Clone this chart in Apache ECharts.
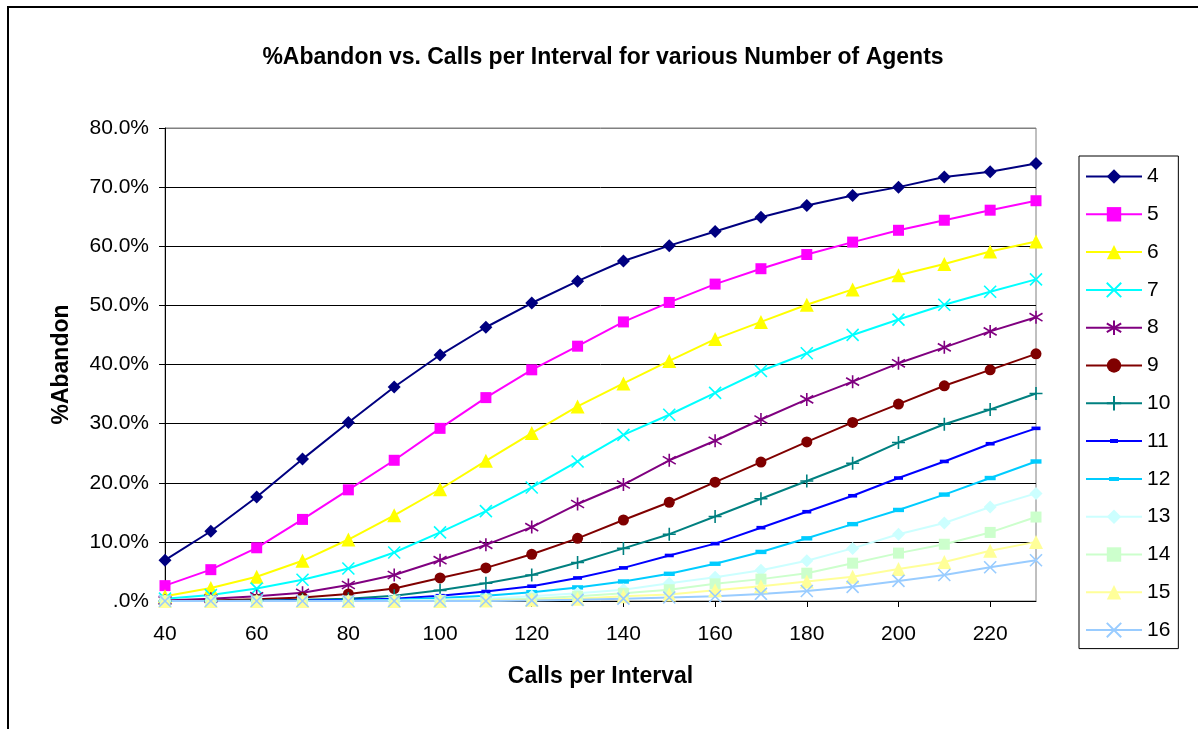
<!DOCTYPE html>
<html>
<head>
<meta charset="utf-8">
<script src="https://cdn.jsdelivr.net/npm/echarts@6/dist/echarts.min.js"></script>
<style>
html,body{margin:0;padding:0;background:#fff;}
#chart{width:1198px;height:729px;}
</style>
</head>
<body>
<div id="chart"></div>
<script>
const categories = ['40','50','60','70','80','90','100','110','120','130','140','150','160','170','180','190','200','210','220','230'];
const seriesNames = ['4','5','6','7','8','9','10','11','12','13','14','15','16'];
const s4  = [6.9, 11.8, 17.6, 24.0, 30.2, 36.2, 41.6, 46.3, 50.4, 54.1, 57.5, 60.1, 62.5, 64.9, 66.9, 68.6, 70.0, 71.7, 72.6, 74.0];
const s5  = [2.6, 5.3, 9.0, 13.8, 18.8, 23.8, 29.2, 34.4, 39.1, 43.1, 47.2, 50.5, 53.6, 56.2, 58.6, 60.7, 62.7, 64.4, 66.1, 67.7];
const s6  = [0.8, 2.2, 4.1, 6.8, 10.4, 14.5, 18.9, 23.7, 28.4, 32.9, 36.8, 40.6, 44.3, 47.2, 50.1, 52.7, 55.1, 57.0, 59.1, 60.8];
const s7  = [0.4, 1.0, 2.1, 3.6, 5.5, 8.2, 11.6, 15.2, 19.2, 23.6, 28.1, 31.5, 35.2, 38.9, 41.9, 45.0, 47.6, 50.1, 52.3, 54.4];
const s8  = [0.1, 0.4, 0.8, 1.4, 2.7, 4.4, 6.9, 9.5, 12.5, 16.4, 19.7, 23.8, 27.1, 30.7, 34.1, 37.1, 40.2, 42.9, 45.6, 48.0];
const s9  = [0.0, 0.1, 0.3, 0.6, 1.2, 2.1, 3.9, 5.6, 7.9, 10.6, 13.7, 16.7, 20.1, 23.5, 26.9, 30.2, 33.3, 36.4, 39.1, 41.8];
const s10 = [0.0, 0.0, 0.1, 0.2, 0.4, 0.9, 1.8, 3.0, 4.4, 6.5, 8.9, 11.3, 14.3, 17.3, 20.3, 23.3, 26.8, 29.9, 32.4, 35.1];
const s11 = [0.0, 0.0, 0.0, 0.1, 0.2, 0.4, 0.9, 1.6, 2.5, 3.9, 5.6, 7.7, 9.7, 12.4, 15.1, 17.8, 20.8, 23.6, 26.6, 29.2];
const s12 = [0.0, 0.0, 0.0, 0.0, 0.1, 0.2, 0.5, 0.9, 1.5, 2.3, 3.3, 4.6, 6.3, 8.3, 10.6, 13.0, 15.4, 18.0, 20.8, 23.6];
const s13 = [0.0, 0.0, 0.0, 0.0, 0.0, 0.1, 0.2, 0.4, 0.8, 1.3, 1.9, 3.0, 4.0, 5.2, 6.8, 8.9, 11.3, 13.2, 15.9, 18.2];
const s14 = [0.0, 0.0, 0.0, 0.0, 0.0, 0.0, 0.1, 0.2, 0.4, 0.8, 1.3, 1.9, 2.9, 3.7, 4.7, 6.4, 8.1, 9.6, 11.6, 14.2];
const s15 = [0.0, 0.0, 0.0, 0.0, 0.0, 0.0, 0.0, 0.1, 0.2, 0.4, 0.8, 1.1, 1.8, 2.5, 3.3, 4.1, 5.4, 6.6, 8.5, 10.0];
const s16 = [0.0, 0.0, 0.0, 0.0, 0.0, 0.0, 0.0, 0.0, 0.1, 0.2, 0.4, 0.6, 0.8, 1.2, 1.7, 2.4, 3.4, 4.4, 5.7, 6.9];
const allData = [s4, s5, s6, s7, s8, s9, s10, s11, s12, s13, s14, s15, s16];

const colors = ['#000080','#FF00FF','#FFFF00','#00FFFF','#800080','#800000','#008080','#0000FF','#00CCFF','#CCFFFF','#CCFFCC','#FFFF99','#99CCFF'];
const X = 'path://M0,0L10,10M10,0L0,10';
const STAR = 'path://M5,0L5,10M0,2L10,8M10,2L0,8';
const PLUS = 'path://M5,0L5,10M0,5L10,5';
const DASH = 'path://M0,0L10,0L10,4L0,4Z';
const symbols = ['diamond','rect','triangle',X,STAR,'circle',PLUS,DASH,DASH,'diamond','rect','triangle',X];
const sizes = [13,11,14,12,13,11,13,9,11,13,11,14,12];
const strokeOnly = [false,false,false,true,true,false,true,false,false,false,false,false,true];
// legend icons for the dash-marker series: line plus short dash
const legendIcons = {
  '11': 'path://M0,4L56,4L56,6L0,6Z M24,3L32,3L32,7L24,7Z',
  '12': 'path://M0,4L56,4L56,6L0,6Z M23,3L33,3L33,7L23,7Z'
};

const FONT = '"Liberation Sans", Arial, sans-serif';

const chart = echarts.init(document.getElementById('chart'), null, {renderer:'canvas'});
const series = seriesNames.map((n, i) => ({
  name: n,
  type: 'line',
  data: allData[i],
  symbol: symbols[i],
  symbolSize: sizes[i],
  symbolKeepAspect: true,
  showAllSymbol: true,
  lineStyle: { color: colors[i], width: 2 },
  itemStyle: { color: colors[i], borderColor: colors[i], borderWidth: strokeOnly[i] ? 1.6 : 0 },
  emphasis: { disabled: true },
  animation: false
}));

const splitColors = ['#000','#000','#000','#000','#000','#000','#000','#000','#808080'];

chart.setOption({
  backgroundColor: '#fff',
  animation: false,
  title: {
    text: '%Abandon vs. Calls per Interval for various Number of Agents',
    left: 598, top: 41, textAlign: 'center',
    textStyle: { fontFamily: FONT, fontSize: 23, fontWeight: 'bold', color: '#000' }
  },
  grid: { left: 165, top: 128, right: 162, bottom: 128, show: true, borderColor: '#808080', borderWidth: 1, backgroundColor: 'transparent' },
  legend: {
    orient: 'vertical',
    left: 1079, top: 156,
    width: 102,
    padding: [10, 8, 8, 6],
    itemWidth: 56, itemHeight: 18, itemGap: 16.8,
    backgroundColor: '#fff', borderColor: '#000', borderWidth: 1,
    textStyle: { fontFamily: FONT, fontSize: 21, color: '#000' },
    data: seriesNames.map(n => legendIcons[n] ? { name: n, icon: legendIcons[n] } : n)
  },
  xAxis: {
    type: 'category',
    data: categories,
    boundaryGap: false,
    name: 'Calls per Interval',
    nameLocation: 'middle',
    nameGap: 64,
    nameTextStyle: { fontFamily: FONT, fontSize: 23, fontWeight: 'bold', color: '#000' },
    axisLine: { lineStyle: { color: '#000', width: 1 } },
    axisTick: { show: true, interval: 1, length: 6, lineStyle: { color: '#000' } },
    axisLabel: { interval: 1, fontFamily: FONT, fontSize: 21, color: '#000', margin: 23 },
    splitLine: { show: false }
  },
  yAxis: {
    type: 'value',
    min: 0, max: 80, interval: 10,
    name: '%Abandon',
    nameLocation: 'middle',
    nameGap: 92,
    nameRotate: 90,
    nameTextStyle: { fontFamily: FONT, fontSize: 23, fontWeight: 'bold', color: '#000' },
    axisLine: { show: true, lineStyle: { color: '#000', width: 1 } },
    axisTick: { show: true, length: 6, lineStyle: { color: '#000' } },
    axisLabel: {
      fontFamily: FONT, fontSize: 21, color: '#000', margin: 16,
      formatter: v => v === 0 ? '.0%' : v.toFixed(1) + '%'
    },
    splitLine: { show: true, lineStyle: { color: splitColors, width: 1 } }
  },
  graphic: [{
    type: 'rect',
    shape: { x: 8, y: 7, width: 1300, height: 900 },
    style: { fill: 'none', stroke: '#000', lineWidth: 2 },
    silent: true, z: 100
  }],
  series: series
});
</script>
</body>
</html>
